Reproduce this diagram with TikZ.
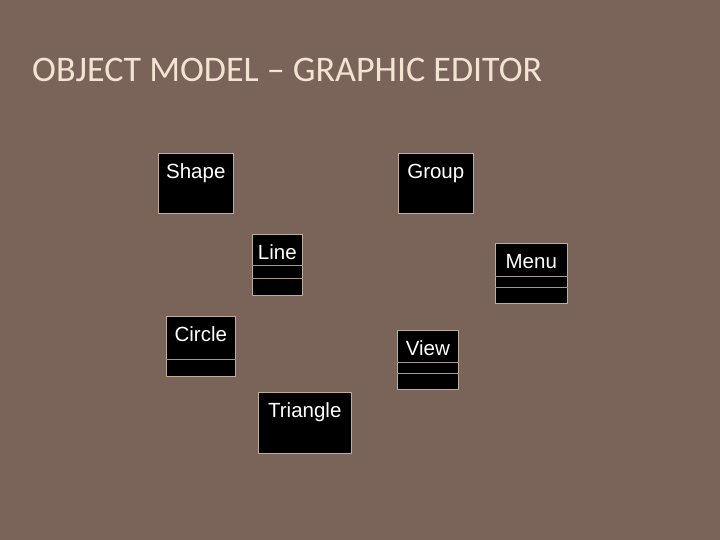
\documentclass[tikz,border=0pt]{standalone}
\usepackage{fontspec}
\setmainfont{Carlito}
\newfontfamily\boxfont{Liberation Sans}
\usetikzlibrary{positioning}
\definecolor{slidebg}{RGB}{122,99,88}
\definecolor{titlecol}{RGB}{242,228,208}
\definecolor{edgecol}{RGB}{190,174,150}
\definecolor{sepcol}{RGB}{168,152,132}

\begin{document}
\begin{tikzpicture}[x=1pt,y=-1pt]
\tikzstyle{classbox}=[draw=edgecol,line width=0.6pt,fill=black,inner sep=0pt,anchor=north west]
\tikzstyle{classname}=[text=white,font=\boxfont\fontsize{20.5}{24}\selectfont,inner sep=0pt,text height=15pt]
\tikzstyle{sep}=[draw=sepcol,line width=0.8pt]

\useasboundingbox (0,0) rectangle (720,540);
\fill[slidebg] (0,0) rectangle (720,540);

\node[anchor=base west,inner sep=0pt,text=titlecol,font=\fontsize{36}{44}\selectfont] (title) at (32,82) {OBJECT MODEL -- GRAPHIC EDITOR};

% classes, top row
\node[classbox,minimum width=75pt,minimum height=60pt] (shape) at (158,153) {};
\node[classname,below=10pt of shape.north] (shapename) {Shape};
\node[classbox,minimum width=75pt,minimum height=60pt] (group) at (398,153) {};
\node[classname,below=10pt of group.north] (groupname) {Group};

% classes with compartments
\node[classbox,minimum width=50pt,minimum height=61pt] (line) at (252,234) {};
\node[classname,below=10pt of line.north] (linename) {Line};
\draw[sep] (line.west |- 0,265) -- (line.east |- 0,265);
\draw[sep] (line.west |- 0,278) -- (line.east |- 0,278);

\node[classbox,minimum width=72pt,minimum height=60pt] (menu) at (495,243) {};
\node[classname,below=10pt of menu.north] (menuname) {Menu};
\draw[sep] (menu.west |- 0,276) -- (menu.east |- 0,276);
\draw[sep] (menu.west |- 0,287) -- (menu.east |- 0,287);

\node[classbox,minimum width=69pt,minimum height=60pt] (circle) at (166,316) {};
\node[classname,below=10pt of circle.north] (circlename) {Circle};
\draw[sep] (circle.west |- 0,359) -- (circle.east |- 0,359);

\node[classbox,minimum width=61pt,minimum height=59pt] (view) at (397,330) {};
\node[classname,below=10pt of view.north] (viewname) {View};
\draw[sep] (view.west |- 0,362) -- (view.east |- 0,362);
\draw[sep] (view.west |- 0,373) -- (view.east |- 0,373);

\node[classbox,minimum width=93pt,minimum height=61pt] (triangle) at (258,392) {};
\node[classname,below=10pt of triangle.north] (trianglename) {Triangle};
\end{tikzpicture}
\end{document}
